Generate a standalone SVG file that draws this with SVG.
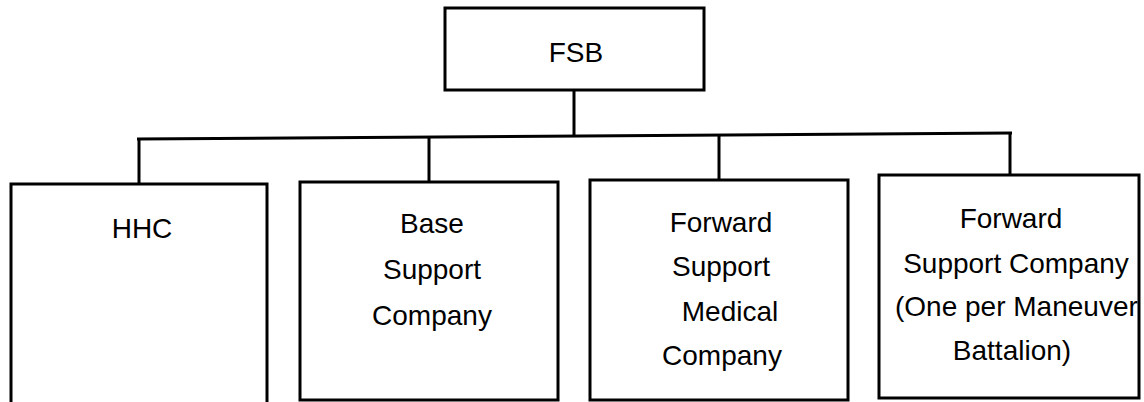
<svg xmlns="http://www.w3.org/2000/svg" width="1144" height="402" viewBox="0 0 1144 402">
<style>
.box{fill:#fff;stroke:#000;stroke-width:3}
.ln{fill:none;stroke:#000;stroke-width:3}
text{font-family:"Liberation Sans",Arial,sans-serif;font-size:28px;fill:#000;text-anchor:middle}
</style>
<rect width="1144" height="402" fill="#fff"/>
<g id="connectors">
<line class="ln" x1="574" y1="90" x2="574" y2="136"/>
<line class="ln" x1="137" y1="139" x2="1012" y2="133"/>
<line class="ln" x1="139" y1="139" x2="139" y2="184"/>
<line class="ln" x1="429" y1="137" x2="429" y2="182"/>
<line class="ln" x1="719" y1="135" x2="719" y2="180"/>
<line class="ln" x1="1010" y1="133" x2="1010" y2="175"/>
</g>
<g id="fsb">
<rect class="box" x="445" y="8" width="259" height="82"/>
<text x="576" y="62">FSB</text>
</g>
<g id="hhc">
<rect class="box" x="11" y="184" width="256" height="240"/>
<text x="142" y="238">HHC</text>
</g>
<g id="base">
<rect class="box" x="300" y="182" width="258" height="218"/>
<text x="432" y="233">Base</text>
<text x="432" y="279">Support</text>
<text x="432" y="325">Company</text>
</g>
<g id="fsmc">
<rect class="box" x="590" y="180" width="258" height="220"/>
<text x="721" y="232">Forward</text>
<text x="721" y="276">Support</text>
<text x="730" y="321">Medical</text>
<text x="722" y="365">Company</text>
</g>
<g id="fsc">
<rect class="box" x="879" y="175" width="260" height="223"/>
<text x="1011" y="228">Forward</text>
<text x="1016" y="273">Support Company</text>
<text x="895" y="316" style="text-anchor:start">(One per Maneuver</text>
<text x="1012" y="360">Battalion)</text>
</g>
</svg>
